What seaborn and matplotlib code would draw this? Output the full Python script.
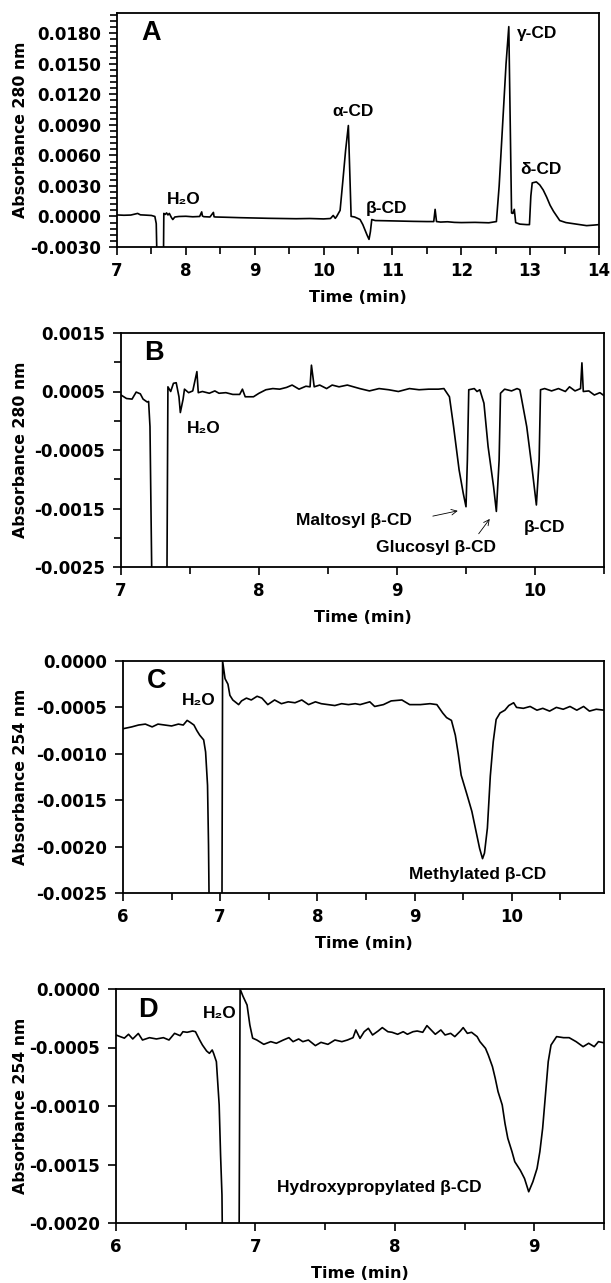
import numpy as np
import pandas as pd
import matplotlib
matplotlib.use("Agg")
import matplotlib.pyplot as plt
from matplotlib.ticker import MultipleLocator, FixedLocator, FuncFormatter
import seaborn as sns

# ---------------- data ----------------
# Panel A: time (min), absorbance 280 nm
a_time = [7.00, 7.10, 7.20, 7.30, 7.34, 7.40, 7.50, 7.55, 7.57, 7.58, 7.675, 7.68, 7.70, 7.72, 7.74,
          7.76, 7.79, 7.81, 7.84, 7.90, 8.00, 8.10, 8.20, 8.23, 8.24, 8.26, 8.35, 8.40, 8.41, 8.43,
          8.60, 8.80, 9.00, 9.20, 9.40, 9.60, 9.80, 10.00, 10.10, 10.14, 10.17, 10.19, 10.24, 10.28,
          10.32, 10.36, 10.40, 10.45, 10.50, 10.53, 10.57, 10.60, 10.63, 10.66, 10.68, 10.70, 10.75,
          10.90, 11.10, 11.30, 11.50, 11.60, 11.62, 11.64, 11.70, 11.80, 11.90, 12.00, 12.20, 12.40,
          12.51, 12.55, 12.60, 12.65, 12.69, 12.73, 12.75, 12.77, 12.79, 12.85, 12.95, 12.99, 13.01,
          13.03, 13.09, 13.14, 13.19, 13.24, 13.29, 13.34, 13.43, 13.52, 13.62, 13.72, 13.82, 13.92, 14.00]
a_abs = [0.00015, 0.00012, 0.00014, 0.00030, 0.00016, 0.00014, 0.00010, 0.00000, -0.00070, -0.00400,
         -0.00400, 0.00030, 0.00020, 0.00035, 0.00015, 0.00030, -0.00010, -0.00030, -0.00005, 0.00000,
         0.00002, -0.00003, 0.00000, 0.00045, 0.00005, -0.00002, -0.00005, 0.00040, -0.00003, -0.00005,
         -0.00008, -0.00012, -0.00015, -0.00018, -0.00020, -0.00022, -0.00020, -0.00024, -0.00020,
         0.00010, -0.00018, 0.00000, 0.00060, 0.00350, 0.00650, 0.00894, 0.00001, -0.00005, -0.00020,
         -0.00030, -0.00080, -0.00130, -0.00180, -0.00225, -0.00150, -0.00030, -0.00040, -0.00042,
         -0.00045, -0.00048, -0.00050, -0.00050, 0.00070, -0.00050, -0.00055, -0.00052, -0.00058,
         -0.00060, -0.00058, -0.00062, -0.00050, 0.00300, 0.00900, 0.01500, 0.01866, 0.00034, 0.00030,
         0.00070, -0.00060, -0.00075, -0.00080, -0.00080, 0.00200, 0.00330, 0.00340, 0.00310, 0.00260,
         0.00190, 0.00110, 0.00050, -0.00040, -0.00060, -0.00070, -0.00080, -0.00090, -0.00085, -0.00080]

# Panel B: time (min), absorbance 280 nm
b_time = [7.00, 7.04, 7.08, 7.11, 7.14, 7.16, 7.19, 7.20, 7.21, 7.23, 7.33, 7.34, 7.36, 7.38, 7.40,
          7.42, 7.43, 7.45, 7.46, 7.49, 7.52, 7.55, 7.56, 7.59, 7.64, 7.68, 7.71, 7.76, 7.81, 7.86,
          7.88, 7.90, 7.96, 8.00, 8.05, 8.10, 8.15, 8.20, 8.24, 8.29, 8.34, 8.37, 8.38, 8.40, 8.44,
          8.49, 8.53, 8.58, 8.64, 8.73, 8.80, 8.87, 8.94, 9.01, 9.09, 9.16, 9.23, 9.30, 9.34, 9.38,
          9.41, 9.45, 9.48, 9.50, 9.51, 9.52, 9.56, 9.58, 9.60, 9.63, 9.66, 9.70, 9.72, 9.74, 9.75,
          9.78, 9.83, 9.87, 9.89, 9.90, 9.94, 9.98, 10.00, 10.01, 10.03, 10.04, 10.07, 10.12, 10.17,
          10.22, 10.25, 10.29, 10.33, 10.34, 10.35, 10.39, 10.43, 10.47, 10.50]
b_abs = [0.00044, 0.00038, 0.00037, 0.00049, 0.00046, 0.00037, 0.00032, 0.00033, -0.00010, -0.00400,
         -0.00400, 0.00058, 0.00050, 0.00064, 0.00065, 0.00041, 0.00014, 0.00037, 0.00054, 0.00048,
         0.00051, 0.00084, 0.00048, 0.00050, 0.00047, 0.00051, 0.00047, 0.00048, 0.00045, 0.00045,
         0.00054, 0.00041, 0.00041, 0.00047, 0.00053, 0.00055, 0.00054, 0.00057, 0.00061, 0.00054,
         0.00059, 0.00058, 0.00095, 0.00058, 0.00061, 0.00055, 0.00061, 0.00058, 0.00061, 0.00055,
         0.00051, 0.00055, 0.00053, 0.00050, 0.00055, 0.00053, 0.00054, 0.00054, 0.00055, 0.00041,
         -0.00010, -0.00084, -0.00124, -0.00147, -0.00067, 0.00053, 0.00055, 0.00050, 0.00053, 0.00030,
         -0.00044, -0.00113, -0.00155, -0.00067, 0.00047, 0.00054, 0.00051, 0.00055, 0.00053, 0.00041,
         -0.00010, -0.00084, -0.00124, -0.00144, -0.00067, 0.00053, 0.00055, 0.00051, 0.00055, 0.00050,
         0.00058, 0.00051, 0.00055, 0.00099, 0.00050, 0.00051, 0.00044, 0.00048, 0.00043]

# Panel C: time (min), absorbance 254 nm
c_time = [6.00, 6.09, 6.16, 6.23, 6.30, 6.36, 6.43, 6.50, 6.57, 6.62, 6.66, 6.69, 6.73, 6.76, 6.79,
          6.83, 6.85, 6.87, 6.88, 6.90, 7.015, 7.025, 7.05, 7.08, 7.10, 7.13, 7.19, 7.22, 7.27, 7.32,
          7.38, 7.43, 7.49, 7.56, 7.63, 7.70, 7.77, 7.84, 7.91, 7.98, 8.04, 8.11, 8.18, 8.25, 8.32,
          8.39, 8.44, 8.54, 8.59, 8.68, 8.76, 8.87, 8.95, 9.06, 9.16, 9.23, 9.29, 9.33, 9.38, 9.42,
          9.45, 9.48, 9.54, 9.59, 9.64, 9.67, 9.70, 9.72, 9.75, 9.78, 9.81, 9.84, 9.88, 9.93, 9.97,
          10.02, 10.05, 10.12, 10.19, 10.26, 10.32, 10.39, 10.46, 10.53, 10.60, 10.67, 10.74, 10.80,
          10.87, 10.95]
c_abs = [-0.00073, -0.00071, -0.00069, -0.00068, -0.00071, -0.00068, -0.00069, -0.00070, -0.00068,
         -0.00069, -0.00064, -0.00066, -0.00069, -0.00075, -0.00080, -0.00085, -0.00098, -0.00134,
         -0.00198, -0.00400, -0.00400, 0.00000, -0.00019, -0.00025, -0.00037, -0.00042, -0.00047,
         -0.00043, -0.00040, -0.00042, -0.00038, -0.00040, -0.00047, -0.00042, -0.00046, -0.00044,
         -0.00045, -0.00042, -0.00047, -0.00044, -0.00046, -0.00047, -0.00048, -0.00046, -0.00047,
         -0.00046, -0.00047, -0.00044, -0.00049, -0.00047, -0.00043, -0.00042, -0.00047, -0.00047,
         -0.00046, -0.00047, -0.00056, -0.00061, -0.00064, -0.00080, -0.00100, -0.00123, -0.00144,
         -0.00162, -0.00187, -0.00202, -0.00213, -0.00207, -0.00180, -0.00124, -0.00087, -0.00063,
         -0.00056, -0.00053, -0.00048, -0.00045, -0.00050, -0.00051, -0.00049, -0.00053, -0.00051,
         -0.00054, -0.00050, -0.00052, -0.00049, -0.00053, -0.00049, -0.00054, -0.00052, -0.00053]

# Panel D: time (min), absorbance 254 nm
d_time = [6.00, 6.03, 6.06, 6.09, 6.12, 6.16, 6.19, 6.24, 6.29, 6.34, 6.38, 6.42, 6.46, 6.48, 6.51,
          6.55, 6.57, 6.60, 6.62, 6.65, 6.67, 6.69, 6.70, 6.72, 6.74, 6.75, 6.76, 6.77, 6.88, 6.89,
          6.91, 6.94, 6.96, 6.98, 7.01, 7.06, 7.11, 7.15, 7.20, 7.24, 7.27, 7.31, 7.34, 7.38, 7.43,
          7.47, 7.52, 7.57, 7.62, 7.66, 7.70, 7.72, 7.75, 7.78, 7.81, 7.84, 7.88, 7.91, 7.95, 7.98,
          8.02, 8.06, 8.09, 8.13, 8.16, 8.20, 8.23, 8.26, 8.29, 8.33, 8.36, 8.40, 8.43, 8.47, 8.49,
          8.52, 8.55, 8.59, 8.61, 8.65, 8.67, 8.70, 8.72, 8.74, 8.77, 8.79, 8.81, 8.84, 8.86, 8.90,
          8.93, 8.96, 8.99, 9.02, 9.04, 9.06, 9.08, 9.10, 9.12, 9.16, 9.21, 9.25, 9.30, 9.35, 9.39,
          9.43, 9.46, 9.50]
d_abs = [-0.000393, -0.000407, -0.000420, -0.000387, -0.000427, -0.000380, -0.000436, -0.000416,
         -0.000427, -0.000416, -0.000436, -0.000379, -0.000399, -0.000365, -0.000370, -0.000359,
         -0.000365, -0.000436, -0.000479, -0.000530, -0.000550, -0.000521, -0.000550, -0.000621,
         -0.000990, -0.001420, -0.001760, -0.003000, -0.003000, 0.000000, -0.000060, -0.000137,
         -0.000308, -0.000420, -0.000436, -0.000473, -0.000450, -0.000464, -0.000436, -0.000416,
         -0.000450, -0.000427, -0.000450, -0.000436, -0.000484, -0.000456, -0.000473, -0.000436,
         -0.000450, -0.000436, -0.000416, -0.000350, -0.000422, -0.000365, -0.000336, -0.000393,
         -0.000359, -0.000330, -0.000365, -0.000370, -0.000387, -0.000365, -0.000387, -0.000365,
         -0.000359, -0.000370, -0.000313, -0.000350, -0.000387, -0.000350, -0.000393, -0.000379,
         -0.000407, -0.000359, -0.000330, -0.000379, -0.000370, -0.000407, -0.000450, -0.000507,
         -0.000564, -0.000664, -0.000764, -0.000877, -0.000991, -0.001150, -0.001276, -0.001390,
         -0.001476, -0.001550, -0.001620, -0.001733, -0.001647, -0.001533, -0.001390, -0.001190,
         -0.000906, -0.000621, -0.000479, -0.000407, -0.000416, -0.000416, -0.000450, -0.000493,
         -0.000464, -0.000493, -0.000450, -0.000460]

# tick values and labels
a_yticks = [-0.0030, 0.0000, 0.0030, 0.0060, 0.0090, 0.0120, 0.0150, 0.0180]
b_yticks = [-0.0025, -0.0015, -0.0005, 0.0005, 0.0015]
c_yticks = [-0.0025, -0.0020, -0.0015, -0.0010, -0.0005, 0.0000]
d_yticks = [-0.0020, -0.0015, -0.0010, -0.0005, 0.0000]
a_xticks = [7, 8, 9, 10, 11, 12, 13, 14]
b_xticks = [7, 8, 9, 10]
c_xticks = [6, 7, 8, 9, 10]
d_xticks = [6, 7, 8, 9]

# ---------------- style ----------------
sns.set_style("ticks")
plt.rcParams['font.family'] = ['Liberation Sans', 'DejaVu Sans']
plt.rcParams['font.weight'] = 'bold'
plt.rcParams['axes.unicode_minus'] = False
plt.rcParams['axes.linewidth'] = 1.3
plt.rcParams['axes.labelcolor'] = 'black'
plt.rcParams['text.color'] = 'black'
plt.rcParams['xtick.color'] = 'black'
plt.rcParams['ytick.color'] = 'black'
plt.rcParams['xtick.direction'] = 'out'
plt.rcParams['ytick.direction'] = 'out'

W, H = 611, 1283
fig = plt.figure(figsize=(W / 100, H / 100), dpi=100)

def axes_px(left, right, top, bottom):
    return fig.add_axes([left / W, 1 - bottom / H, (right - left) / W, (bottom - top) / H])

axA = axes_px(117, 599, 13, 247)
axB = axes_px(121, 604, 333, 567)
axC = axes_px(123, 604, 661, 893)
axD = axes_px(116, 604, 989, 1223)

WIDE = ['DejaVu Sans']
TICK_FS = 12
YLAB_FS = 11.3
XLAB_FS = 11.5
ANN_FS = 12.5
LET_FS = 19.5
fmt4 = FuncFormatter(lambda v, p: f"{v:.4f}")

def style(ax, xlim, ylim, xticks, yticks, xminor, yminor, ylabel):
    ax.set_xlim(*xlim)
    ax.set_ylim(*ylim)
    ax.xaxis.set_major_locator(FixedLocator(xticks))
    ax.yaxis.set_major_locator(FixedLocator(yticks))
    ax.xaxis.set_minor_locator(MultipleLocator(xminor))
    if yminor:
        ax.yaxis.set_minor_locator(MultipleLocator(yminor))
    ax.yaxis.set_major_formatter(fmt4)
    ax.xaxis.set_major_formatter(FuncFormatter(lambda v, p: f"{int(round(v))}"))
    ax.tick_params(which='both', direction='out', width=1.2, colors='black')
    ax.tick_params(which='major', length=6, labelsize=TICK_FS)
    ax.tick_params(axis='x', which='major', pad=4.5)
    ax.tick_params(axis='y', which='major', pad=5.5)
    ax.tick_params(which='minor', length=5)
    for lab in ax.get_xticklabels() + ax.get_yticklabels():
        lab.set_fontweight('bold')
        lab.set_family(WIDE)
    for s in ax.spines.values():
        s.set_visible(True)
        s.set_color('black')
        s.set_linewidth(1.3)
    ax.set_xlabel("Time (min)", fontsize=XLAB_FS, fontweight='bold', va='center',
                  family=WIDE, color='black')
    ax.set_ylabel(ylabel, fontsize=YLAB_FS, fontweight='bold', va='center',
                  family=WIDE, color='black')
    ax.grid(False)

panels = [
    (axA, a_time, a_abs, (7, 14), (-0.0030, 0.0200), a_xticks, a_yticks, 0.5, 0.0006, "Absorbance 280 nm"),
    (axB, b_time, b_abs, (7, 10.5), (-0.0025, 0.0015), b_xticks, b_yticks, 0.5, 0.0005, "Absorbance 280 nm"),
    (axC, c_time, c_abs, (6, 10.95), (-0.0025, 0.0000), c_xticks, c_yticks, 0.5, None, "Absorbance 254 nm"),
    (axD, d_time, d_abs, (6, 9.5), (-0.0020, 0.0000), d_xticks, d_yticks, 0.5, None, "Absorbance 254 nm"),
]
for ax, t, v, xl, yl, xt, yt, xm, ym, ylab in panels:
    df = pd.DataFrame({"time": t, "abs": v})
    sns.lineplot(data=df, x="time", y="abs", ax=ax, color='black', linewidth=1.2,
                 estimator=None, sort=False)
    style(ax, xl, yl, xt, yt, xm, ym, ylab)
    hpx = ax.get_position().height * H
    ax.xaxis.set_label_coords(0.5, -50 / hpx)
    wpx = ax.get_position().width * W
    left_px = ax.get_position().x0 * W
    ax.yaxis.set_label_coords((21 - left_px) / wpx, 0.5)

bold = dict(fontweight='bold', color='black')
# Panel A annotations
axA.text(7.49, 0.0180, "A", fontsize=LET_FS, ha='center', va='center', **bold)
axA.text(7.97, 0.00165, "H₂O", fontsize=ANN_FS, ha='center', va='center', **bold)
axA.text(10.43, 0.0103, "α-CD", fontsize=ANN_FS, ha='center', va='center', **bold)
axA.text(10.92, 0.00077, "β-CD", fontsize=ANN_FS, ha='center', va='center', **bold)
axA.text(13.10, 0.0180, "γ-CD", fontsize=ANN_FS, ha='center', va='center', **bold)
axA.text(13.16, 0.00466, "δ-CD", fontsize=ANN_FS, ha='center', va='center', **bold)

# Panel B annotations
axB.text(7.24, 0.00116, "B", fontsize=LET_FS, ha='center', va='center', **bold)
axB.text(7.60, -0.00013, "H₂O", fontsize=ANN_FS, ha='center', va='center', **bold)
axB.text(9.11, -0.00170, "Maltosyl β-CD", fontsize=ANN_FS, ha='right', va='center', **bold)
axB.text(9.285, -0.00217, "Glucosyl β-CD", fontsize=ANN_FS, ha='center', va='center', **bold)
axB.text(10.07, -0.00183, "β-CD", fontsize=ANN_FS, ha='center', va='center', **bold)
axB.annotate("", xy=(9.46, -0.00153), xytext=(9.24, -0.00164),
             arrowprops=dict(arrowstyle='->', color='black', lw=0.6))
axB.annotate("", xy=(9.684, -0.00164), xytext=(9.58, -0.00197),
             arrowprops=dict(arrowstyle='->', color='black', lw=0.6))

# Panel C annotations
axC.text(6.35, -0.00022, "C", fontsize=LET_FS, ha='center', va='center', **bold)
axC.text(6.775, -0.00043, "H₂O", fontsize=ANN_FS, ha='center', va='center', **bold)
axC.text(9.645, -0.0023, "Methylated β-CD", fontsize=ANN_FS, ha='center', va='center', **bold)

# Panel D annotations
axD.text(6.23, -0.00018, "D", fontsize=LET_FS, ha='center', va='center', **bold)
axD.text(6.745, -0.00021, "H₂O", fontsize=ANN_FS, ha='center', va='center', **bold)
axD.text(7.89, -0.0017, "Hydroxypropylated β-CD", fontsize=ANN_FS, ha='center', va='center', **bold)

fig.savefig("out.png", dpi=100, facecolor='white')
